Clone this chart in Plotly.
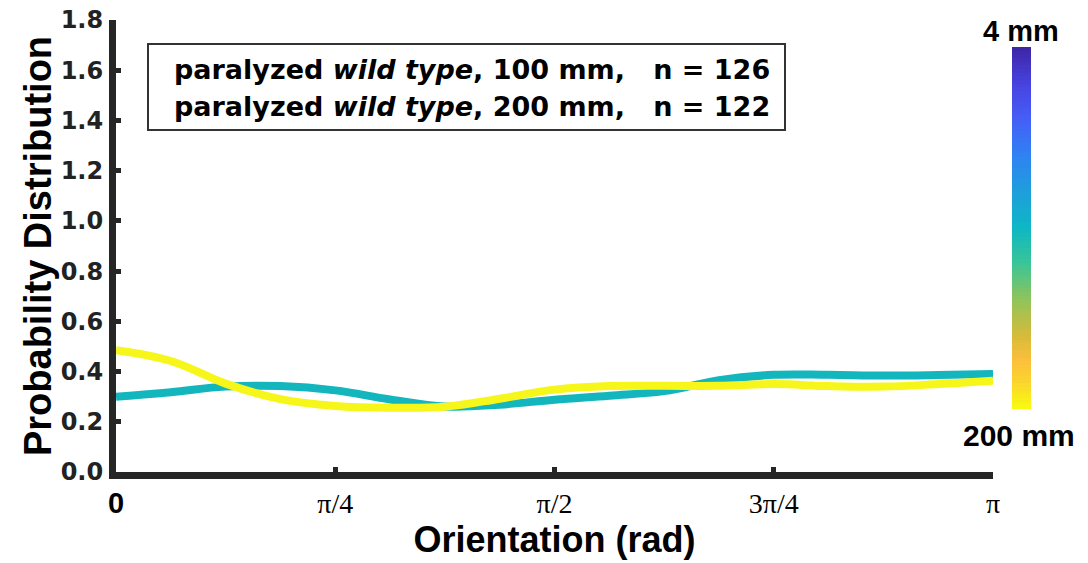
import numpy as np
import plotly.graph_objects as go

# Orientation samples (fractions of pi) and probability densities
orient_frac = [0, 1/16, 2/16, 3/16, 4/16, 5/16, 6/16, 7/16, 8/16,
               9/16, 10/16, 11/16, 12/16, 13/16, 14/16, 15/16, 1]
pd_100mm = [0.300, 0.318, 0.340, 0.342, 0.325, 0.289, 0.261, 0.268, 0.288,
            0.304, 0.322, 0.366, 0.387, 0.387, 0.384, 0.386, 0.390]
pd_200mm = [0.485, 0.442, 0.352, 0.290, 0.263, 0.256, 0.260, 0.292, 0.328,
            0.342, 0.343, 0.343, 0.350, 0.342, 0.340, 0.350, 0.363]

label_100 = "paralyzed <i>wild type</i>, 100 mm,\u00a0\u00a0\u00a0n = 126"
label_200 = "paralyzed <i>wild type</i>, 200 mm,\u00a0\u00a0\u00a0n = 122"

y_ticks = [0.0, 0.2, 0.4, 0.6, 0.8, 1.0, 1.2, 1.4, 1.6, 1.8]
x_tick_frac = [0, 0.25, 0.5, 0.75, 1.0]
x_tick_text = ['<span style="font-family:Liberation Sans;font-weight:bold;font-size:29px">0</span>',
               "\u03c0/4", "\u03c0/2", "3\u03c0/4", "\u03c0"]

# distance scale for the colour bar (4 mm at top, 200 mm at bottom)
scale_mm = list(range(4, 201, 2))

parula = [[0.0, "#3E26A8"], [0.1, "#4743E0"], [0.2, "#4560F7"], [0.3, "#2F82F2"],
          [0.4, "#1E9FDB"], [0.5, "#0EB7C4"], [0.6, "#3AC596"], [0.7, "#90C45A"],
          [0.8, "#D6BB3A"], [0.87, "#FBBF3C"], [0.93, "#FAD52E"], [1.0, "#F9F90F"]]

W, H = 1088, 563
AX = "#262626"

x = np.array(orient_frac) * np.pi

fig = go.Figure()
fig.add_trace(go.Scatter(x=x, y=pd_100mm, mode="lines", name="100 mm",
                         line=dict(color="#14B6BD", width=8, shape="spline", smoothing=1.1),
                         showlegend=False))
fig.add_trace(go.Scatter(x=x, y=pd_200mm, mode="lines", name="200 mm",
                         line=dict(color="#F6F61A", width=8, shape="spline", smoothing=1.1),
                         showlegend=False))

# colour bar drawn as a one-column heatmap
fig.add_trace(go.Heatmap(x=[0], y=scale_mm, z=[[v] for v in scale_mm],
                         colorscale=parula, showscale=False, xaxis="x2", yaxis="y2",
                         hoverinfo="skip"))

def px_x(p):
    return p / W

def px_y(p):
    return 1 - p / H

fig.update_layout(
    width=W, height=H,
    margin=dict(l=0, r=0, t=0, b=0),
    paper_bgcolor="white", plot_bgcolor="white",
    xaxis=dict(domain=[px_x(116), px_x(993)], range=[0, np.pi],
               tickvals=[f * np.pi for f in x_tick_frac], ticktext=x_tick_text,
               tickfont=dict(family="Liberation Serif", size=28, color="black"),
               ticks="inside", ticklen=5, tickwidth=5, tickcolor=AX,
               showline=True, linewidth=7, linecolor=AX,
               showgrid=False, zeroline=False, automargin=False,
               ticklabelstandoff=0,
               title=dict(text="<b>Orientation (rad)</b>", standoff=2,
                          font=dict(family="Liberation Sans", size=36, color="black"))),
    yaxis=dict(domain=[px_y(472), px_y(20)], range=[0, 1.8],
               tickvals=y_ticks, tickformat=".1f",
               tickfont=dict(family="DejaVu Sans", size=24, color="#222222", weight="bold"),
               ticks="inside", ticklen=5, tickwidth=5, tickcolor=AX,
               showline=True, linewidth=7, linecolor=AX,
               showgrid=False, zeroline=False, automargin=False,
               ticklabelstandoff=1,
               title=dict(text="<b>Probability Distribution</b>", standoff=0,
                          font=dict(family="Liberation Sans", size=38, color="black"))),
    xaxis2=dict(domain=[px_x(1012), px_x(1031)], anchor="y2", visible=False,
                showgrid=False, zeroline=False),
    yaxis2=dict(domain=[px_y(409), px_y(47)], anchor="x2", visible=False,
                autorange="reversed", showgrid=False, zeroline=False),
    shapes=[dict(type="rect", xref="paper", yref="paper",
                 x0=px_x(148), x1=px_x(785), y0=px_y(130), y1=px_y(44),
                 line=dict(color="#333333", width=2), fillcolor="rgba(0,0,0,0)")],
    annotations=[
        dict(text="<b>" + label_100 + "</b>", xref="paper", yref="paper",
             x=px_x(172), y=px_y(70), xanchor="left", yanchor="middle", showarrow=False,
             font=dict(family="DejaVu Sans", size=27, color="black")),
        dict(text="<b>" + label_200 + "</b>", xref="paper", yref="paper",
             x=px_x(172), y=px_y(106), xanchor="left", yanchor="middle", showarrow=False,
             font=dict(family="DejaVu Sans", size=27, color="black")),
        dict(text="<b>4 mm</b>", xref="paper", yref="paper",
             x=px_x(1021), y=px_y(31), xanchor="center", yanchor="middle", showarrow=False,
             font=dict(family="Liberation Sans", size=29, color="black")),
        dict(text="<b>200 mm</b>", xref="paper", yref="paper",
             x=px_x(1019), y=px_y(435), xanchor="center", yanchor="middle", showarrow=False,
             font=dict(family="Liberation Sans", size=30, color="black")),
    ],
)

fig.write_html("out.html")
